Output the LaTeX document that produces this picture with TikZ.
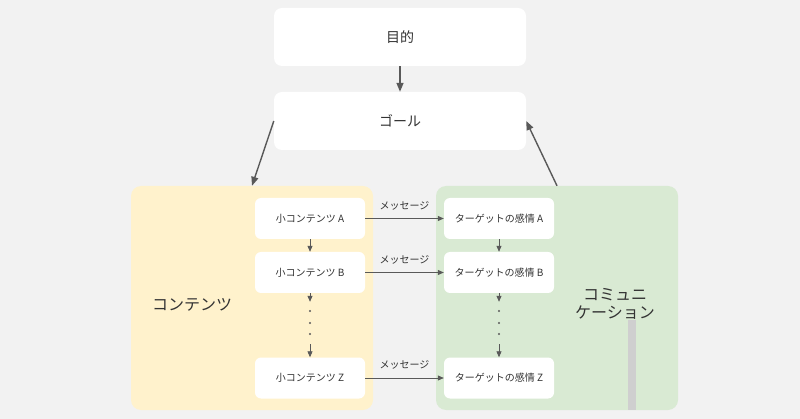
\documentclass[tikz,border=0pt]{standalone}
\usepackage{fontspec}
\setmainfont{Noto Sans CJK JP}
\usetikzlibrary{arrows.meta}

\definecolor{backgray}{HTML}{F2F2F2}
\definecolor{contentyellow}{HTML}{FFF2CC}
\definecolor{commgreen}{HTML}{D9EAD3}
\definecolor{arrowgray}{HTML}{595959}
\definecolor{textgray}{HTML}{333333}
\definecolor{bargray}{HTML}{CFCFCF}

\tikzset{
  bigbox/.style={fill=white, rounded corners=8pt, minimum width=252pt, minimum height=58pt,
    text=textgray, font=\fontsize{14}{16}\selectfont},
  smallbox/.style={fill=white, rounded corners=6pt, minimum width=110pt, minimum height=41pt,
    text=textgray, font=\fontsize{10}{12}\selectfont},
  groupbox/.style={rounded corners=10pt, minimum width=242pt, minimum height=224pt},
  grouplabel/.style={text=textgray, align=center, font=\fontsize{16}{18}\selectfont},
  msglabel/.style={above=5pt, text=textgray, font=\fontsize{10}{12}\selectfont},
  bigarrow/.style={draw=arrowgray, line width=1.4pt, -{Triangle[length=9pt, width=7pt]}},
  smallarrow/.style={draw=arrowgray, line width=0.8pt, -{Triangle[length=6pt, width=5pt]}},
  dotcol/.style={minimum width=10pt, minimum height=42pt, inner sep=0pt},
}

\begin{document}
\begin{tikzpicture}[x=1pt, y=-1pt]

\fill[backgray] (0,0) rectangle (800,419);
\useasboundingbox (0,0) rectangle (800,419);

\coordinate (purpose) at (400,37);
\coordinate (goal) at (400,121);
\coordinate (contents) at (252,298);
\coordinate (communication) at (557,298);

\coordinate (sub-content-a) at (310,218.5);
\coordinate (sub-content-b) at (310,272.5);
\coordinate (sub-content-dots) at (310,323);
\coordinate (sub-content-z) at (310,378);

\coordinate (target-feeling-a) at (499,218.5);
\coordinate (target-feeling-b) at (499,272.5);
\coordinate (target-feeling-dots) at (499,323);
\coordinate (target-feeling-z) at (499,378);

% groups
\node[groupbox, fill=contentyellow] (contents-box) at (contents) {};
\node[groupbox, fill=commgreen] (communication-box) at (communication) {};
\fill[bargray] (628,320) rectangle (636,410);

\node[grouplabel] (contents-label) at (192,305) {コンテンツ};
\node[grouplabel] (communication-label) at (615,304) {コミュニ\\ケーション};

% top
\node[bigbox] (purpose-box) at (purpose) {目的};
\node[bigbox] (goal-box) at (goal) {ゴール};

% contents side
\node[smallbox] (sub-content-a-box) at (sub-content-a) {小コンテンツ A};
\node[smallbox] (sub-content-b-box) at (sub-content-b) {小コンテンツ B};
\node[dotcol] (sub-content-dots-node) at (sub-content-dots) {};
\node[smallbox] (sub-content-z-box) at (sub-content-z) {小コンテンツ Z};

% communication side
\node[smallbox] (target-feeling-a-box) at (target-feeling-a) {ターゲットの感情 A};
\node[smallbox] (target-feeling-b-box) at (target-feeling-b) {ターゲットの感情 B};
\node[dotcol] (target-feeling-dots-node) at (target-feeling-dots) {};
\node[smallbox] (target-feeling-z-box) at (target-feeling-z) {ターゲットの感情 Z};

\foreach \n in {sub-content-dots-node, target-feeling-dots-node} {
  \fill[arrowgray] ([yshift=-11]\n.center) circle (1.2pt);
  \fill[arrowgray] (\n.center) circle (1.2pt);
  \fill[arrowgray] ([yshift=12]\n.center) circle (1.2pt);
}

\draw[bigarrow] (purpose-box) -- (goal-box);
\draw[bigarrow] (goal-box.west) -- (contents-box.north);
\draw[bigarrow] (communication-box.north) -- (goal-box.east);

\draw[smallarrow] (sub-content-a-box) -- (sub-content-b-box);
\draw[smallarrow] (sub-content-b-box) -- (sub-content-dots-node);
\draw[smallarrow] (sub-content-dots-node) -- (sub-content-z-box);

\draw[smallarrow] (target-feeling-a-box) -- (target-feeling-b-box);
\draw[smallarrow] (target-feeling-b-box) -- (target-feeling-dots-node);
\draw[smallarrow] (target-feeling-dots-node) -- (target-feeling-z-box);

\draw[smallarrow] (sub-content-a-box) -- node[msglabel] {メッセージ} (target-feeling-a-box);
\draw[smallarrow] (sub-content-b-box) -- node[msglabel] {メッセージ} (target-feeling-b-box);
\draw[smallarrow] (sub-content-z-box) -- node[msglabel] {メッセージ} (target-feeling-z-box);

\end{tikzpicture}
\end{document}
